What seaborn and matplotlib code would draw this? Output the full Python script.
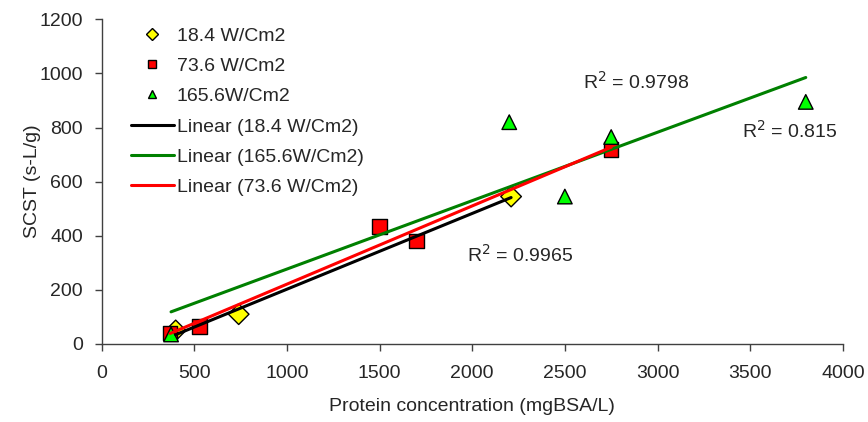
import matplotlib
matplotlib.use("Agg")
import matplotlib.pyplot as plt
import seaborn as sns
import pandas as pd

sns.set_theme(style="white")
plt.rcParams["font.family"] = ["Liberation Sans", "DejaVu Sans"]

# Data
x_18 = [400, 740, 2210]
y_18 = [50, 110, 545]
x_73 = [370, 530, 1500, 1700, 2750]
y_73 = [40, 65, 435, 380, 720]
x_165 = [375, 2200, 2500, 2750, 3800]
y_165 = [35, 820, 545, 765, 895]

labels = ["18.4 W/Cm2", "73.6 W/Cm2", "165.6W/Cm2"]
r2_texts = ["R$^2$ = 0.9965", "R$^2$ = 0.9798", "R$^2$ = 0.815"]
r2_pos = [(1972, 329), (2598, 968), (3457, 787)]

df = pd.DataFrame({
    "x": x_18 + x_73 + x_165,
    "y": y_18 + y_73 + y_165,
    "series": [labels[0]] * len(x_18) + [labels[1]] * len(x_73) + [labels[2]] * len(x_165),
})

fs = 14

fig, ax = plt.subplots(figsize=(8.68, 4.22), dpi=100)
fig.subplots_adjust(left=0.117, right=0.971, bottom=0.185, top=0.954)

# scatter points
sns.scatterplot(data=df, x="x", y="y", hue="series", style="series",
                palette={labels[0]: "#FFFF00", labels[1]: "#FF0000", labels[2]: "#00FF00"},
                markers={labels[0]: "D", labels[1]: "s", labels[2]: "^"},
                s=110, edgecolor="black", linewidth=1, zorder=2, ax=ax, legend=True)

# linear trend lines
sub18 = df[df.series == labels[0]]
sub165 = df[df.series == labels[2]]
sub73 = df[df.series == labels[1]]
sns.regplot(data=sub18, x="x", y="y", scatter=False, ci=None, truncate=True,
            line_kws={"color": "black", "lw": 2.2, "zorder": 3}, label="Linear (18.4 W/Cm2)", ax=ax)
sns.regplot(data=sub165, x="x", y="y", scatter=False, ci=None, truncate=True,
            line_kws={"color": "#008000", "lw": 2.2, "zorder": 3}, label="Linear (165.6W/Cm2)", ax=ax)
sns.regplot(data=sub73, x="x", y="y", scatter=False, ci=None, truncate=True,
            line_kws={"color": "#FF0000", "lw": 2.2, "zorder": 3}, label="Linear (73.6 W/Cm2)", ax=ax)

for txt, (tx, ty) in zip(r2_texts, r2_pos):
    ax.text(tx, ty, txt, fontsize=fs, ha="left", va="center")

ax.set_xlim(0, 4000)
ax.set_ylim(0, 1200)
ax.set_xticks(range(0, 4001, 500))
ax.set_yticks(range(0, 1201, 200))
ax.tick_params(axis="both", labelsize=fs, direction="out", length=5, width=1,
               color="#404040", bottom=True, left=True)
ax.tick_params(axis="x", pad=10)
ax.tick_params(axis="y", pad=8.5)
ax.set_xlabel("Protein concentration (mgBSA/L)", fontsize=fs, labelpad=12)
ax.set_ylabel("SCST (s-L/g)", fontsize=fs, labelpad=-1)
for side in ["top", "right"]:
    ax.spines[side].set_visible(False)
for side in ["left", "bottom"]:
    ax.spines[side].set_color("#404040")
    ax.spines[side].set_linewidth(1)

handles, lbls = ax.get_legend_handles_labels()
order = [lbls.index(l) for l in labels] + [lbls.index(l) for l in
         ["Linear (18.4 W/Cm2)", "Linear (165.6W/Cm2)", "Linear (73.6 W/Cm2)"]]
ax.legend([handles[i] for i in order], [lbls[i] for i in order], loc="upper left",
          bbox_to_anchor=(0.029, 1.0), borderaxespad=0, frameon=False, fontsize=fs,
          markerscale=0.6, handlelength=2.2, labelspacing=0.65, handletextpad=0.15)

fig.savefig("out.png", dpi=100)
